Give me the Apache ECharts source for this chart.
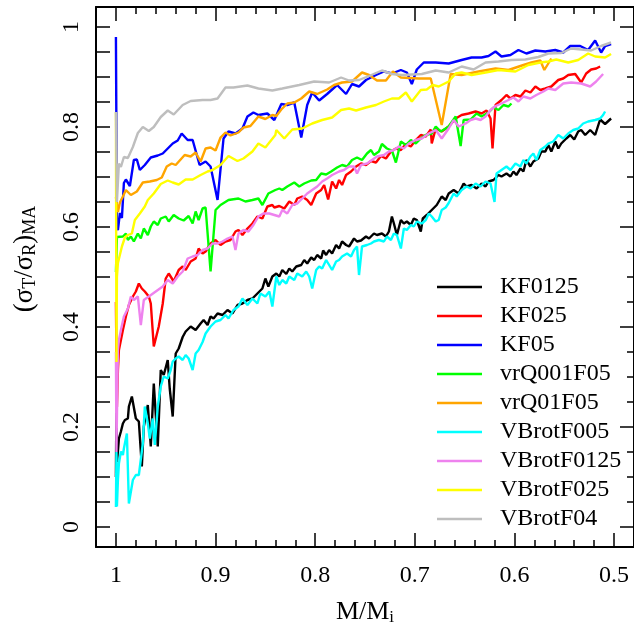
<!DOCTYPE html>
<html>
<head>
<meta charset="utf-8">
<script src="https://cdn.jsdelivr.net/npm/echarts@6/dist/echarts.min.js"></script>
<style>
  html, body { margin: 0; padding: 0; background: #fff; }
  #chart { width: 634px; height: 631px; }
</style>
</head>
<body>
<div id="chart"></div>
<script>
// series names, in legend order
var seriesNames = ['KF0125', 'KF025', 'KF05', 'vrQ001F05', 'vrQ01F05',
                   'VBrotF005', 'VBrotF0125', 'VBrotF025', 'VBrotF04'];
var seriesColors = ['#000000', '#ff0000', '#0000ff', '#00ff00', '#ffa500',
                    '#00ffff', '#ee82ee', '#ffff00', '#bebebe'];

// tick labels
var xLabels = [1, 0.9, 0.8, 0.7, 0.6, 0.5];
var yLabels = [0, 0.2, 0.4, 0.6, 0.8, 1];

// [M/Mi, (sigmaT/sigmaR)MA]
var kf0125 = [[1.000,0.10],[0.9995,0.25],[0.999,0.13],[0.998,0.151],[0.997,0.177],[0.995,0.191],[0.993,0.207],[0.991,0.214],[0.988,0.217],[0.987,0.241],[0.984,0.261],[0.982,0.259],[0.980,0.217],[0.977,0.211],[0.974,0.121],[0.972,0.201],[0.968,0.244],[0.965,0.161],[0.962,0.287],[0.958,0.161],[0.955,0.314],[0.952,0.304],[0.948,0.334],[0.946,0.277],[0.943,0.221],[0.940,0.347],[0.937,0.357],[0.933,0.380],[0.930,0.391],[0.925,0.401],[0.920,0.394],[0.915,0.407],[0.912,0.414],[0.908,0.404],[0.905,0.421],[0.902,0.417],[0.898,0.427],[0.893,0.424],[0.888,0.434],[0.883,0.427],[0.878,0.444],[0.873,0.447],[0.868,0.454],[0.863,0.457],[0.858,0.467],[0.853,0.477],[0.850,0.497],[0.847,0.481],[0.843,0.501],[0.839,0.507],[0.836,0.501],[0.833,0.514],[0.829,0.506],[0.826,0.517],[0.823,0.511],[0.819,0.521],[0.814,0.524],[0.811,0.534],[0.808,0.527],[0.804,0.539],[0.801,0.534],[0.798,0.544],[0.794,0.537],[0.792,0.553],[0.789,0.544],[0.786,0.554],[0.783,0.547],[0.779,0.564],[0.776,0.557],[0.773,0.571],[0.769,0.564],[0.766,0.561],[0.761,0.577],[0.758,0.571],[0.754,0.573],[0.749,0.581],[0.746,0.577],[0.741,0.587],[0.738,0.584],[0.733,0.587],[0.729,0.581],[0.726,0.591],[0.723,0.621],[0.721,0.607],[0.718,0.584],[0.714,0.614],[0.711,0.607],[0.708,0.611],[0.704,0.604],[0.701,0.617],[0.698,0.614],[0.694,0.591],[0.692,0.617],[0.688,0.624],[0.683,0.634],[0.678,0.644],[0.673,0.661],[0.669,0.654],[0.666,0.667],[0.661,0.674],[0.656,0.667],[0.651,0.687],[0.648,0.681],[0.643,0.684],[0.638,0.677],[0.633,0.687],[0.629,0.681],[0.626,0.691],[0.621,0.694],[0.616,0.704],[0.613,0.701],[0.608,0.707],[0.604,0.701],[0.601,0.711],[0.598,0.704],[0.594,0.717],[0.591,0.711],[0.588,0.734],[0.584,0.721],[0.581,0.731],[0.576,0.737],[0.573,0.751],[0.569,0.751],[0.566,0.764],[0.563,0.751],[0.559,0.771],[0.556,0.757],[0.553,0.767],[0.548,0.777],[0.544,0.784],[0.540,0.775],[0.536,0.791],[0.533,0.794],[0.529,0.784],[0.524,0.794],[0.519,0.784],[0.514,0.815],[0.509,0.806],[0.503,0.817]];

var kf025 = [[1.000,0.45],[0.999,0.24],[0.998,0.314],[0.997,0.354],[0.993,0.394],[0.990,0.421],[0.987,0.444],[0.983,0.461],[0.980,0.471],[0.977,0.487],[0.974,0.477],[0.971,0.471],[0.967,0.461],[0.965,0.447],[0.962,0.361],[0.957,0.401],[0.953,0.447],[0.950,0.497],[0.947,0.507],[0.942,0.491],[0.937,0.514],[0.933,0.521],[0.930,0.514],[0.925,0.531],[0.920,0.537],[0.917,0.557],[0.913,0.547],[0.910,0.551],[0.905,0.567],[0.900,0.574],[0.895,0.564],[0.890,0.571],[0.885,0.574],[0.880,0.591],[0.877,0.594],[0.873,0.584],[0.868,0.597],[0.863,0.607],[0.858,0.621],[0.853,0.617],[0.848,0.641],[0.843,0.644],[0.841,0.639],[0.836,0.642],[0.831,0.637],[0.826,0.651],[0.821,0.644],[0.818,0.657],[0.813,0.661],[0.808,0.654],[0.804,0.644],[0.799,0.667],[0.794,0.674],[0.791,0.684],[0.787,0.655],[0.783,0.691],[0.779,0.677],[0.776,0.694],[0.773,0.684],[0.769,0.704],[0.764,0.711],[0.759,0.721],[0.754,0.727],[0.749,0.724],[0.744,0.732],[0.739,0.729],[0.734,0.742],[0.729,0.737],[0.724,0.751],[0.719,0.757],[0.714,0.754],[0.709,0.766],[0.704,0.761],[0.699,0.774],[0.694,0.784],[0.689,0.781],[0.684,0.795],[0.683,0.767],[0.679,0.797],[0.673,0.791],[0.666,0.801],[0.659,0.817],[0.653,0.824],[0.646,0.827],[0.639,0.831],[0.633,0.827],[0.628,0.833],[0.624,0.817],[0.622,0.757],[0.619,0.844],[0.613,0.854],[0.608,0.864],[0.604,0.857],[0.599,0.864],[0.594,0.861],[0.589,0.873],[0.584,0.869],[0.579,0.881],[0.574,0.874],[0.569,0.877],[0.563,0.881],[0.556,0.894],[0.551,0.897],[0.546,0.904],[0.539,0.906],[0.533,0.889],[0.528,0.907],[0.523,0.915],[0.518,0.917],[0.514,0.921]];

var kf05 = [[1.000,0.98],[0.999,0.60],[0.998,0.594],[0.996,0.628],[0.994,0.618],[0.992,0.688],[0.990,0.695],[0.986,0.682],[0.982,0.734],[0.979,0.735],[0.976,0.714],[0.971,0.724],[0.965,0.739],[0.958,0.743],[0.953,0.747],[0.948,0.757],[0.943,0.767],[0.938,0.773],[0.934,0.787],[0.928,0.774],[0.923,0.774],[0.916,0.724],[0.910,0.731],[0.905,0.721],[0.898,0.654],[0.892,0.777],[0.887,0.791],[0.880,0.787],[0.873,0.797],[0.868,0.821],[0.862,0.829],[0.857,0.824],[0.848,0.827],[0.841,0.814],[0.834,0.846],[0.828,0.844],[0.821,0.849],[0.814,0.779],[0.808,0.844],[0.803,0.869],[0.796,0.853],[0.788,0.866],[0.778,0.884],[0.769,0.866],[0.763,0.886],[0.756,0.881],[0.749,0.894],[0.739,0.904],[0.731,0.911],[0.723,0.907],[0.714,0.914],[0.708,0.909],[0.703,0.886],[0.698,0.915],[0.691,0.929],[0.679,0.929],[0.666,0.927],[0.653,0.934],[0.643,0.939],[0.633,0.939],[0.626,0.942],[0.619,0.951],[0.613,0.941],[0.604,0.944],[0.596,0.954],[0.588,0.947],[0.579,0.953],[0.569,0.951],[0.559,0.954],[0.551,0.949],[0.544,0.962],[0.534,0.962],[0.526,0.954],[0.519,0.973],[0.513,0.949],[0.509,0.962],[0.503,0.966]];

var vrq001f05 = [[1.000,0.51],[0.999,0.58],[0.997,0.577],[0.993,0.581],[0.990,0.587],[0.988,0.574],[0.985,0.581],[0.982,0.571],[0.978,0.587],[0.975,0.577],[0.972,0.597],[0.968,0.584],[0.965,0.601],[0.962,0.611],[0.958,0.604],[0.955,0.617],[0.950,0.621],[0.947,0.611],[0.942,0.624],[0.937,0.617],[0.932,0.613],[0.927,0.622],[0.923,0.607],[0.920,0.631],[0.917,0.614],[0.913,0.637],[0.910,0.639],[0.905,0.511],[0.900,0.634],[0.895,0.644],[0.887,0.654],[0.877,0.657],[0.870,0.651],[0.863,0.654],[0.857,0.657],[0.853,0.644],[0.847,0.667],[0.840,0.674],[0.836,0.677],[0.833,0.674],[0.828,0.681],[0.821,0.689],[0.816,0.681],[0.811,0.687],[0.804,0.693],[0.799,0.694],[0.794,0.707],[0.789,0.705],[0.784,0.711],[0.778,0.719],[0.773,0.724],[0.768,0.721],[0.763,0.734],[0.758,0.739],[0.753,0.734],[0.748,0.747],[0.744,0.754],[0.741,0.744],[0.736,0.751],[0.733,0.766],[0.728,0.757],[0.723,0.753],[0.719,0.729],[0.714,0.771],[0.709,0.764],[0.704,0.774],[0.699,0.767],[0.694,0.777],[0.689,0.784],[0.683,0.787],[0.679,0.801],[0.674,0.791],[0.669,0.797],[0.666,0.801],[0.659,0.821],[0.654,0.762],[0.651,0.814],[0.644,0.815],[0.638,0.827],[0.633,0.821],[0.626,0.829],[0.621,0.839],[0.616,0.834],[0.611,0.844],[0.606,0.841],[0.603,0.847]];

var vrq01f05 = [[1.000,0.66],[0.998,0.63],[0.996,0.649],[0.993,0.661],[0.990,0.674],[0.985,0.664],[0.979,0.671],[0.973,0.689],[0.966,0.691],[0.959,0.694],[0.954,0.699],[0.949,0.721],[0.944,0.727],[0.940,0.724],[0.931,0.744],[0.925,0.741],[0.920,0.749],[0.915,0.731],[0.910,0.757],[0.905,0.759],[0.900,0.753],[0.895,0.779],[0.890,0.789],[0.885,0.783],[0.877,0.789],[0.872,0.799],[0.865,0.802],[0.857,0.821],[0.850,0.816],[0.843,0.824],[0.839,0.822],[0.834,0.835],[0.828,0.847],[0.821,0.849],[0.814,0.857],[0.806,0.871],[0.798,0.866],[0.788,0.875],[0.781,0.884],[0.773,0.889],[0.763,0.891],[0.753,0.909],[0.746,0.904],[0.738,0.893],[0.729,0.893],[0.722,0.911],[0.714,0.899],[0.696,0.897],[0.684,0.897],[0.673,0.804],[0.664,0.906],[0.653,0.904],[0.636,0.911],[0.619,0.917],[0.606,0.914],[0.594,0.922],[0.583,0.929],[0.574,0.933],[0.570,0.914],[0.563,0.937]];

var vbrotf005 = [[1.000,0.04],[0.9995,0.15],[0.999,0.041],[0.998,0.094],[0.997,0.127],[0.995,0.151],[0.993,0.144],[0.992,0.157],[0.989,0.187],[0.987,0.047],[0.983,0.094],[0.980,0.104],[0.977,0.104],[0.973,0.167],[0.971,0.241],[0.968,0.207],[0.966,0.177],[0.963,0.217],[0.961,0.164],[0.958,0.241],[0.955,0.281],[0.952,0.301],[0.948,0.297],[0.945,0.314],[0.943,0.331],[0.940,0.337],[0.937,0.341],[0.933,0.334],[0.930,0.344],[0.927,0.337],[0.923,0.314],[0.920,0.347],[0.917,0.354],[0.913,0.370],[0.910,0.387],[0.905,0.401],[0.900,0.411],[0.895,0.414],[0.890,0.424],[0.887,0.417],[0.882,0.434],[0.877,0.441],[0.873,0.457],[0.868,0.444],[0.863,0.457],[0.858,0.447],[0.855,0.467],[0.850,0.461],[0.846,0.471],[0.843,0.441],[0.839,0.501],[0.836,0.484],[0.833,0.494],[0.829,0.487],[0.826,0.501],[0.821,0.494],[0.818,0.507],[0.813,0.501],[0.809,0.511],[0.806,0.501],[0.803,0.477],[0.799,0.514],[0.796,0.521],[0.793,0.517],[0.789,0.534],[0.786,0.524],[0.783,0.514],[0.779,0.531],[0.776,0.534],[0.773,0.541],[0.768,0.547],[0.764,0.541],[0.761,0.554],[0.758,0.561],[0.756,0.504],[0.753,0.561],[0.748,0.564],[0.744,0.567],[0.741,0.571],[0.736,0.574],[0.731,0.571],[0.728,0.581],[0.724,0.574],[0.721,0.587],[0.718,0.584],[0.714,0.557],[0.711,0.597],[0.708,0.594],[0.704,0.604],[0.701,0.601],[0.698,0.611],[0.693,0.607],[0.689,0.614],[0.686,0.627],[0.683,0.621],[0.679,0.611],[0.676,0.614],[0.673,0.634],[0.669,0.639],[0.666,0.648],[0.661,0.667],[0.658,0.661],[0.653,0.674],[0.648,0.681],[0.644,0.677],[0.639,0.687],[0.634,0.681],[0.629,0.691],[0.624,0.687],[0.620,0.650],[0.618,0.707],[0.613,0.714],[0.608,0.721],[0.604,0.714],[0.599,0.727],[0.594,0.721],[0.591,0.734],[0.588,0.727],[0.584,0.741],[0.581,0.747],[0.578,0.734],[0.574,0.754],[0.569,0.761],[0.566,0.767],[0.561,0.771],[0.556,0.784],[0.551,0.777],[0.546,0.787],[0.541,0.794],[0.536,0.797],[0.531,0.807],[0.526,0.811],[0.519,0.814],[0.514,0.817],[0.511,0.824],[0.509,0.831]];

var vbrotf0125 = [[1.000,0.35],[0.9995,0.15],[0.998,0.354],[0.997,0.374],[0.995,0.394],[0.992,0.421],[0.988,0.437],[0.985,0.461],[0.982,0.454],[0.978,0.461],[0.975,0.404],[0.972,0.454],[0.967,0.461],[0.960,0.471],[0.953,0.481],[0.948,0.494],[0.943,0.487],[0.938,0.501],[0.933,0.511],[0.928,0.537],[0.923,0.541],[0.918,0.544],[0.913,0.554],[0.908,0.557],[0.903,0.567],[0.898,0.567],[0.893,0.571],[0.888,0.577],[0.883,0.581],[0.880,0.554],[0.877,0.587],[0.872,0.594],[0.867,0.591],[0.862,0.604],[0.857,0.621],[0.852,0.627],[0.846,0.627],[0.841,0.624],[0.836,0.621],[0.833,0.634],[0.828,0.627],[0.823,0.644],[0.818,0.647],[0.813,0.657],[0.808,0.667],[0.803,0.674],[0.798,0.681],[0.793,0.691],[0.788,0.697],[0.783,0.704],[0.776,0.711],[0.771,0.714],[0.766,0.721],[0.761,0.721],[0.758,0.707],[0.754,0.724],[0.748,0.727],[0.743,0.734],[0.738,0.741],[0.731,0.744],[0.726,0.751],[0.721,0.754],[0.716,0.761],[0.711,0.757],[0.706,0.767],[0.699,0.774],[0.693,0.777],[0.686,0.787],[0.679,0.794],[0.673,0.777],[0.666,0.797],[0.661,0.814],[0.656,0.801],[0.649,0.807],[0.644,0.814],[0.639,0.817],[0.634,0.814],[0.629,0.821],[0.624,0.834],[0.619,0.842],[0.613,0.847],[0.606,0.854],[0.601,0.859],[0.596,0.851],[0.591,0.861],[0.584,0.857],[0.578,0.864],[0.571,0.871],[0.566,0.877],[0.559,0.874],[0.551,0.887],[0.543,0.889],[0.533,0.887],[0.524,0.881],[0.518,0.891],[0.511,0.906]];

var vbrotf025 = [[1.000,0.83],[0.9995,0.33],[0.999,0.50],[0.998,0.528],[0.994,0.561],[0.991,0.579],[0.988,0.584],[0.984,0.587],[0.981,0.614],[0.976,0.627],[0.971,0.641],[0.968,0.654],[0.962,0.667],[0.955,0.686],[0.948,0.693],[0.943,0.689],[0.937,0.685],[0.930,0.695],[0.923,0.695],[0.915,0.704],[0.908,0.711],[0.903,0.714],[0.895,0.724],[0.887,0.742],[0.878,0.732],[0.872,0.737],[0.863,0.751],[0.857,0.767],[0.850,0.759],[0.840,0.784],[0.839,0.794],[0.831,0.777],[0.823,0.795],[0.813,0.797],[0.803,0.807],[0.793,0.814],[0.783,0.819],[0.774,0.834],[0.766,0.837],[0.759,0.833],[0.749,0.839],[0.739,0.844],[0.731,0.851],[0.723,0.857],[0.716,0.857],[0.709,0.869],[0.703,0.851],[0.694,0.874],[0.688,0.875],[0.682,0.884],[0.676,0.881],[0.666,0.891],[0.659,0.907],[0.653,0.909],[0.643,0.904],[0.629,0.909],[0.616,0.914],[0.599,0.911],[0.586,0.924],[0.574,0.929],[0.566,0.931],[0.558,0.935],[0.546,0.929],[0.536,0.934],[0.526,0.947],[0.519,0.941],[0.509,0.939],[0.503,0.946]];

var vbrotf04 = [[1.000,0.83],[0.999,0.65],[0.997,0.727],[0.995,0.72],[0.992,0.74],[0.988,0.738],[0.983,0.76],[0.978,0.788],[0.973,0.80],[0.967,0.792],[0.962,0.80],[0.955,0.82],[0.948,0.833],[0.942,0.825],[0.933,0.844],[0.925,0.852],[0.913,0.854],[0.905,0.854],[0.898,0.857],[0.890,0.879],[0.882,0.879],[0.868,0.883],[0.857,0.877],[0.843,0.873],[0.833,0.877],[0.816,0.884],[0.801,0.891],[0.786,0.889],[0.774,0.899],[0.766,0.893],[0.756,0.894],[0.746,0.902],[0.733,0.913],[0.723,0.906],[0.713,0.904],[0.693,0.906],[0.679,0.913],[0.666,0.909],[0.653,0.921],[0.641,0.915],[0.629,0.929],[0.616,0.931],[0.603,0.934],[0.589,0.935],[0.576,0.94],[0.566,0.947],[0.553,0.948],[0.543,0.957],[0.533,0.955],[0.523,0.953],[0.513,0.962],[0.503,0.969]];

var seriesData = [kf0125, kf025, kf05, vrq001f05, vrq01f05, vbrotf005, vbrotf0125, vbrotf025, vbrotf04];

var FONT = '"Liberation Serif", "DejaVu Serif", serif';
var xMinor = [], yMinor = [];
for (var i = 0; i <= 25; i++) xMinor.push(+(0.5 + i * 0.02).toFixed(2));
for (var j = 0; j <= 20; j++) yMinor.push(+(j * 0.05).toFixed(2));

var chart = echarts.init(document.getElementById('chart'), null, { renderer: 'canvas' });

var baseX = {
    type: 'value', inverse: true, min: 0.48, max: 1.02,
    splitLine: { show: false },
    axisLine: { show: false, onZero: false },
    axisLabel: { show: false },
    axisTick: { inside: true, length: 7, customValues: xMinor, lineStyle: { color: '#000', width: 1.5 } }
};
var baseY = {
    type: 'value', min: -0.04, max: 1.04,
    splitLine: { show: false },
    axisLine: { show: false, onZero: false },
    axisLabel: { show: false },
    axisTick: { inside: true, length: 7, customValues: yMinor, lineStyle: { color: '#000', width: 1.5 } }
};

var option = {
    animation: false,
    backgroundColor: '#fff',
    grid: { left: 96, top: 7, width: 540, height: 540 },
    xAxis: [
        Object.assign({}, baseX, {
            position: 'bottom',
            axisLine: { show: true, onZero: false, lineStyle: { color: '#000', width: 2 } },
            axisTick: { inside: true, length: 14, customValues: xLabels, lineStyle: { color: '#000', width: 1.5 } },
            axisLabel: { show: true, customValues: xLabels, margin: 17, color: '#000', fontSize: 24, fontFamily: FONT },
            name: '{a|M/M}{s|i}',
            nameLocation: 'middle',
            nameGap: 52,
            nameTextStyle: {
                rich: {
                    a: { fontSize: 26, fontFamily: FONT, color: '#000' },
                    s: { fontSize: 17, fontFamily: FONT, color: '#000', padding: [10, 0, 0, 0] }
                }
            }
        }),
        Object.assign({}, baseX, { position: 'bottom' }),
        Object.assign({}, baseX, {
            position: 'top',
            axisLine: { show: true, onZero: false, lineStyle: { color: '#000', width: 2 } },
            axisTick: { inside: true, length: 14, customValues: xLabels, lineStyle: { color: '#000', width: 1.5 } }
        }),
        Object.assign({}, baseX, { position: 'top' })
    ],
    yAxis: [
        Object.assign({}, baseY, {
            position: 'left',
            axisLine: { show: true, onZero: false, lineStyle: { color: '#000', width: 2 } },
            axisTick: { inside: true, length: 14, customValues: yMinor, lineStyle: { color: '#000', width: 1.5 } },
            axisLabel: { show: true, customValues: yLabels, rotate: 90, margin: 12, color: '#000', fontSize: 24, fontFamily: FONT },
            name: '{a|(σ}{s|T}{a|/σ}{s|R}{a|)}{s|MA}',
            nameLocation: 'middle',
            nameGap: 57,
            nameRotate: 90,
            nameTextStyle: {
                padding: [0, 0, 0, 36],
                rich: {
                    a: { fontSize: 27, fontFamily: FONT, color: '#000' },
                    s: { fontSize: 18, fontFamily: FONT, color: '#000', padding: [11, 0, 0, 0] }
                }
            }
        }),
        Object.assign({}, baseY, {
            position: 'right',
            axisLine: { show: true, onZero: false, lineStyle: { color: '#000', width: 2 } },
            axisTick: { inside: true, length: 14, customValues: yLabels, lineStyle: { color: '#000', width: 1.5 } }
        }),
        Object.assign({}, baseY, { position: 'right' })
    ],
    legend: {
        orient: 'vertical',
        left: 432,
        top: 270,
        icon: 'rect',
        itemWidth: 45,
        itemHeight: 2.5,
        itemGap: 5,
        data: seriesNames,
        textStyle: { fontSize: 24, lineHeight: 24, fontFamily: FONT, color: '#000', padding: [0, 0, 0, 13] }
    },
    series: seriesNames.map(function (name, k) {
        return {
            name: name,
            type: 'line',
            xAxisIndex: 0,
            yAxisIndex: 0,
            data: seriesData[k],
            showSymbol: false,
            symbol: 'none',
            color: seriesColors[k],
            lineStyle: { color: seriesColors[k], width: 2.4 }
        };
    })
};

chart.setOption(option);
</script>
</body>
</html>
